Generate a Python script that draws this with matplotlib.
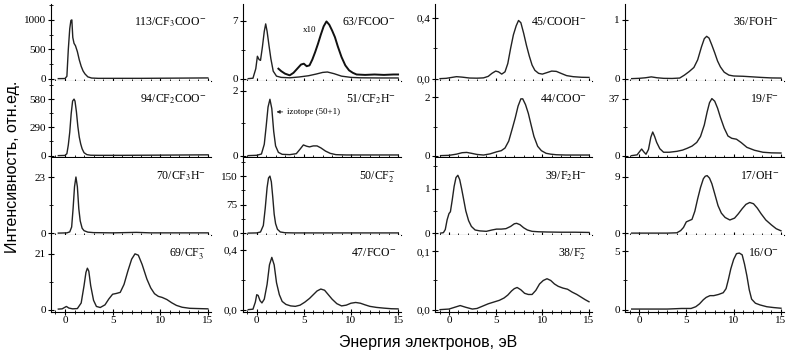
import matplotlib.pyplot as plt
from matplotlib.ticker import MultipleLocator, FixedLocator, FuncFormatter

plt.rcParams['font.family'] = ['Liberation Serif', 'DejaVu Serif']
plt.rcParams['mathtext.fontset'] = 'stix'

# --- data (energy in eV, intensity in arb. units) ---
x_113 = [-0.7, 0.0, 0.2, 0.35, 0.5, 0.62, 0.72, 0.82, 0.95, 1.1, 1.3, 1.5, 1.7, 1.9, 2.1, 2.4, 2.8, 3.5, 5, 8, 11, 15]
y_113 = [0, 2, 40, 500, 850, 990, 1000, 700, 600, 560, 460, 320, 210, 130, 80, 30, 10, 5, 5, 5, 8, 12]

x_94 = [-0.7, 0, 0.2, 0.35, 0.5, 0.65, 0.8, 0.95, 1.05, 1.2, 1.35, 1.5, 1.65, 1.8, 2.0, 2.3, 2.7, 3.5, 6, 10, 15]
y_94 = [0, 2, 20, 110, 240, 430, 560, 580, 560, 450, 300, 190, 120, 70, 30, 10, 4, 3, 3, 5, 8]

x_70 = [-0.7, 0.2, 0.5, 0.7, 0.85, 1.0, 1.15, 1.3, 1.45, 1.6, 1.8, 2.0, 2.4, 3, 5, 7.5, 9, 12, 15]
y_70 = [0, 0.1, 0.5, 2.5, 10, 19, 23, 19, 10, 5, 2, 1, 0.4, 0.2, 0.1, 0.3, 0.1, 0.1, 0.1]

x_69 = [-0.7, -0.3, 0.0, 0.15, 0.4, 0.8, 1.3, 1.7, 2.0, 2.2, 2.35, 2.5, 2.7, 3.0, 3.3, 3.7, 4.2, 4.6, 5.0, 5.4,
        5.8, 6.2, 6.6, 7.0, 7.35, 7.7, 8.1, 8.6, 9.0, 9.4, 9.8, 10.2, 10.7, 11.2, 11.7, 12.3, 13.1, 14, 15]
y_69 = [0.2, 0.3, 0.9, 1.2, 0.6, 0.3, 0.4, 2.5, 9, 14, 15.6, 14.5, 9, 3.5, 1.2, 0.8, 1.8, 4.0, 5.8, 6.1,
        6.5, 9.5, 14.5, 19, 21, 20.5, 17, 11.5, 8.2, 6.0, 5.0, 4.6, 3.8, 2.6, 1.6, 0.9, 0.5, 0.4, 0.3]

x_63 = [-0.9, -0.4, -0.1, 0.07, 0.25, 0.4, 0.6, 0.8, 0.95, 1.1, 1.3, 1.5, 1.75, 2.1, 2.6, 3.5, 4.5, 5.5,
        6.3, 7.0, 7.5, 8.2, 9.0, 10, 11, 13, 15]
y_63 = [0, 0.05, 1.2, 2.7, 2.3, 2.2, 3.8, 5.7, 6.6, 5.7, 4.0, 2.4, 0.9, 0.3, 0.15, 0.1, 0.2, 0.35,
        0.55, 0.75, 0.8, 0.6, 0.3, 0.15, 0.1, 0.08, 0.08]
x_63x10 = [2.3, 2.6, 3.0, 3.5, 3.9, 4.3, 4.7, 5.0, 5.3, 5.6, 5.9, 6.2, 6.5, 6.8, 7.1, 7.4, 7.7, 8.0, 8.3,
           8.6, 9.0, 9.4, 9.8, 10.2, 10.6, 11.5, 12.5, 13.5, 14.5, 15]
y_63x10 = [1.2, 0.9, 0.6, 0.4, 0.7, 1.2, 1.7, 1.8, 1.5, 1.6, 2.3, 3.2, 4.2, 5.3, 6.3, 6.9, 6.5, 5.8, 5.0,
           3.9, 2.6, 1.6, 1.0, 0.7, 0.5, 0.45, 0.5, 0.45, 0.5, 0.5]

x_51 = [-0.9, 0.0, 0.5, 0.8, 1.0, 1.2, 1.4, 1.6, 1.8, 2.0, 2.3, 2.7, 3.5, 4.2, 4.6, 4.95, 5.3, 5.6, 6.0,
        6.4, 6.8, 7.3, 7.8, 8.4, 9.5, 12, 15]
y_51 = [0, 0.01, 0.05, 0.35, 0.9, 1.5, 1.74, 1.45, 0.75, 0.3, 0.1, 0.04, 0.03, 0.06, 0.2, 0.33, 0.29, 0.27, 0.3,
        0.3, 0.24, 0.14, 0.07, 0.03, 0.02, 0.02, 0.02]

x_50 = [-0.9, 0.0, 0.4, 0.7, 0.9, 1.1, 1.25, 1.4, 1.55, 1.7, 1.85, 2.0, 2.2, 2.5, 3.0, 4, 8, 12, 15]
y_50 = [0, 0.5, 3, 20, 65, 120, 145, 150, 135, 95, 50, 25, 10, 3, 1, 0.5, 0.5, 0.5, 0.5]

x_47 = [-0.9, -0.4, -0.15, 0.0, 0.15, 0.35, 0.55, 0.8, 1.1, 1.35, 1.6, 1.85, 2.1, 2.4, 2.7, 3.1, 3.6, 4.1,
        4.6, 5.1, 5.6, 6.0, 6.4, 6.8, 7.2, 7.6, 8.0, 8.5, 9.0, 9.5, 10.0, 10.5, 11.0, 11.5, 12.0, 12.7,
        13.5, 14.3, 15.0]
y_47 = [0, 0.003, 0.05, 0.1, 0.095, 0.06, 0.045, 0.07, 0.17, 0.3, 0.35, 0.3, 0.18, 0.1, 0.055, 0.035, 0.025, 0.022,
        0.03, 0.05, 0.075, 0.1, 0.125, 0.138, 0.13, 0.1, 0.07, 0.04, 0.025, 0.03, 0.043, 0.048, 0.043, 0.032, 0.022, 0.015,
        0.01, 0.006, 0.005]

x_45 = [-0.96, -0.3, 0.3, 0.8, 1.4, 2.2, 3.0, 3.7, 4.2, 4.6, 5.0, 5.3, 5.65, 6.0, 6.3, 6.6, 6.9, 7.2, 7.45,
        7.7, 8.0, 8.3, 8.6, 8.9, 9.2, 9.6, 10.0, 10.5, 11.0, 11.5, 12.0, 12.6, 13.3, 14.2, 15]
y_45 = [0.0, 0.002, 0.008, 0.013, 0.01, 0.004, 0.003, 0.005, 0.015, 0.035, 0.05, 0.045, 0.03, 0.045, 0.1, 0.2, 0.29,
        0.35, 0.385, 0.37, 0.3, 0.22, 0.15, 0.09, 0.055, 0.035, 0.03, 0.04, 0.05, 0.048, 0.035, 0.02, 0.013, 0.009, 0.008]

x_44 = [-0.9, 0.0, 0.8, 1.4, 1.9, 2.4, 3.0, 3.7, 4.4, 5.1, 5.6, 6.0, 6.4, 6.8, 7.1, 7.4, 7.7, 7.9, 8.2, 8.5,
        8.8, 9.1, 9.5, 9.9, 10.4, 10.9, 11.5, 12.5, 14, 15]
y_44 = [0.0, 0.01, 0.05, 0.1, 0.11, 0.08, 0.04, 0.02, 0.06, 0.13, 0.17, 0.26, 0.5, 0.95, 1.3, 1.7, 1.95, 1.95, 1.75,
        1.45, 1.05, 0.66, 0.32, 0.17, 0.08, 0.05, 0.03, 0.02, 0.02, 0.02]

x_39 = [-0.9, -0.6, -0.4, -0.2, 0.0, 0.15, 0.35, 0.55, 0.75, 0.95, 1.15, 1.35, 1.55, 1.8, 2.1, 2.4, 2.8, 3.3,
        4.0, 4.6, 5.1, 5.6, 6.1, 6.6, 7.0, 7.25, 7.6, 8.0, 8.4, 8.9, 9.6, 10.5, 12, 13.5, 15]
y_39 = [0.0, 0.01, 0.08, 0.3, 0.44, 0.48, 0.75, 1.05, 1.25, 1.3, 1.2, 1.0, 0.78, 0.5, 0.28, 0.15, 0.07, 0.05,
        0.04, 0.07, 0.09, 0.09, 0.1, 0.15, 0.21, 0.22, 0.19, 0.12, 0.07, 0.04, 0.03, 0.025, 0.02, 0.02, 0.015]

x_38 = [-0.96, 0.0, 0.6, 1.2, 1.8, 2.5, 3.0, 3.6, 4.2, 4.8, 5.4, 5.9, 6.3, 6.7, 7.0, 7.3, 7.7, 8.1, 8.5,
        8.9, 9.3, 9.7, 10.1, 10.5, 10.9, 11.3, 11.7, 12.2, 12.7, 13.2, 13.7, 14.2, 14.6, 15.0]
y_38 = [0.0, 0.001, 0.004, 0.007, 0.004, 0.001, 0.002, 0.006, 0.01, 0.013, 0.016, 0.02, 0.025, 0.032, 0.036,
        0.038, 0.034, 0.028, 0.026, 0.026, 0.033, 0.044, 0.05, 0.053, 0.05, 0.044, 0.04, 0.037, 0.035, 0.03,
        0.026, 0.021, 0.017, 0.0135]

x_36 = [-0.77, 0.0, 0.7, 1.3, 1.9, 2.6, 3.5, 4.3, 4.8, 5.3, 5.8, 6.2, 6.6, 6.9, 7.15, 7.4, 7.7, 8.0, 8.3,
        8.6, 9.0, 9.5, 10.0, 11.0, 12.0, 13.0, 14.0, 15.0]
y_36 = [0.0, 0.005, 0.015, 0.03, 0.015, 0.005, 0.003, 0.01, 0.06, 0.12, 0.19, 0.32, 0.54, 0.68, 0.72, 0.69, 0.57,
        0.44, 0.3, 0.2, 0.11, 0.06, 0.045, 0.04, 0.03, 0.02, 0.012, 0.01]

x_19 = [-0.77, -0.2, 0.05, 0.28, 0.5, 0.74, 1.0, 1.25, 1.45, 1.65, 1.87, 2.2, 2.6, 3.2, 4.0, 4.6, 5.1, 5.6,
        6.1, 6.5, 6.9, 7.2, 7.45, 7.7, 8.0, 8.3, 8.6, 9.0, 9.4, 9.8, 10.3, 10.8, 11.4, 12.2, 13.1, 14.0, 15.0]
y_19 = [0.0, 0.5, 2.5, 4.3, 2.5, 0.9, 4.0, 12.0, 15.4, 12.5, 8.6, 4.5, 2.2, 2.2, 2.8, 3.6, 4.8, 6.2,
        8.6, 12.5, 20.0, 28.5, 34.5, 37.2, 35.5, 31.0, 25.0, 18.0, 12.8, 11.3, 10.7, 8.5, 5.4, 3.5, 2.2, 1.8, 1.7]

x_17 = [-0.77, 1.0, 3.0, 4.0, 4.4, 4.7, 5.0, 5.3, 5.6, 5.9, 6.2, 6.5, 6.8, 7.0, 7.2, 7.45, 7.7, 8.0, 8.35,
        8.7, 9.1, 9.6, 10.1, 10.5, 10.9, 11.3, 11.7, 12.1, 12.5, 12.9, 13.4, 14.0, 14.5, 15.0]
y_17 = [0, 0, 0, 0.05, 0.4, 0.9, 1.8, 2.0, 2.2, 3.5, 5.5, 7.3, 8.7, 9.1, 9.2, 8.8, 7.9, 6.3, 4.4,
        3.2, 2.5, 2.1, 2.4, 3.1, 3.9, 4.6, 4.9, 4.7, 4.0, 3.1, 2.1, 1.3, 0.7, 0.37]

x_16 = [-0.77, 1.0, 3.0, 4.5, 5.5, 6.0, 6.4, 6.8, 7.1, 7.5, 7.9, 8.4, 8.9, 9.2, 9.45, 9.7, 10.0, 10.3, 10.6,
        10.9, 11.15, 11.4, 11.65, 11.9, 12.3, 12.8, 13.5, 14.2, 15.0]
y_16 = [0.05, 0.05, 0.05, 0.1, 0.1, 0.25, 0.5, 0.85, 1.05, 1.2, 1.2, 1.3, 1.45, 1.8, 2.6, 3.5, 4.3, 4.8, 4.85,
        4.7, 3.9, 2.9, 1.7, 0.9, 0.55, 0.4, 0.25, 0.18, 0.12]

labels = [
    [r'113/CF$_3$COO$^{-}$', r'63/FCOO$^{-}$', r'45/COOH$^{-}$', r'36/FOH$^{-}$'],
    [r'94/CF$_2$COO$^{-}$', r'51/CF$_2$H$^{-}$', r'44/COO$^{-}$', r'19/F$^{-}$'],
    [r'70/CF$_3$H$^{-}$', r'50/CF$_2^{-}$', r'39/F$_2$H$^{-}$', r'17/OH$^{-}$'],
    [r'69/CF$_3^{-}$', r'47/FCO$^{-}$', r'38/F$_2^{-}$', r'16/O$^{-}$'],
]
series = [
    [(x_113, y_113), (x_63, y_63), (x_45, y_45), (x_36, y_36)],
    [(x_94, y_94), (x_51, y_51), (x_44, y_44), (x_19, y_19)],
    [(x_70, y_70), (x_50, y_50), (x_39, y_39), (x_17, y_17)],
    [(x_69, y_69), (x_47, y_47), (x_38, y_38), (x_16, y_16)],
]
y_top = [[1270, 9.0, 0.494, 1.27], [771, 2.32, 2.58, 49], [31, 199, 1.7, 12.1], [28.1, 0.5, 0.128, 6.4]]
y_ticks = [
    [[0, 500, 1000], [0, 7], [0, 0.4], [0, 1]],
    [[0, 290, 580], [0, 2], [0, 2], [0, 37]],
    [[0, 23], [0, 75, 150], [0, 1], [0, 9]],
    [[0, 21], [0, 0.4], [0, 0.1], [0, 5]],
]
comma_cols = {(0, 2), (3, 1), (3, 2)}

W, H = 788, 350
col_left = [50.7, 242.6, 435.0, 624.8]
col_width = [160.0, 158.3, 156.8, 159.0]
row_top = [4.0, 80.5, 157.5, 235.0, 311.5]

fig = plt.figure(figsize=(W / 100, H / 100), dpi=100)
line_col = '#222222'

for r in range(4):
    for c in range(4):
        ax = fig.add_axes([col_left[c] / W, 1 - row_top[r + 1] / H,
                           col_width[c] / W, (row_top[r + 1] - row_top[r]) / H])
        xs, ys = series[r][c]
        ax.plot(xs, ys, color=line_col, lw=1.0)
        if (r, c) == (0, 1):
            ax.plot(x_63x10, y_63x10, color='#111111', lw=1.4)
            ax.text(5.6, 5.9, 'x10', fontsize=6.5, ha='center', va='center')
        if (r, c) == (1, 1):
            ax.annotate('izotope (50+1)', xy=(2.1, 1.35), xytext=(3.2, 1.35),
                        fontsize=6.5, ha='left', va='center',
                        arrowprops=dict(arrowstyle='-|>', lw=0.6, color='#222222',
                                        mutation_scale=5, shrinkA=1, shrinkB=0))
        top = y_top[r][c]
        ax.set_xlim(-1.5, 15.3)
        ax.set_ylim(-0.025 * top, top)
        for s in ['top', 'right']:
            ax.spines[s].set_visible(False)
        ax.xaxis.set_major_locator(FixedLocator([0, 5, 10, 15]))
        ax.xaxis.set_minor_locator(MultipleLocator(1))
        tk = y_ticks[r][c]
        ax.yaxis.set_major_locator(FixedLocator(tk))
        step = tk[1] / 2
        ax.yaxis.set_minor_locator(MultipleLocator(step))
        if (r, c) in comma_cols:
            ax.yaxis.set_major_formatter(FuncFormatter(lambda v, p: ('%.1f' % v).replace('.', ',')))
        else:
            ax.yaxis.set_major_formatter(FuncFormatter(lambda v, p: '%d' % round(v)))
        ax.tick_params(which='major', direction='inout', length=5, width=0.8, labelsize=8, pad=1)
        ax.tick_params(which='minor', direction='inout', length=3, width=0.6)
        if r < 3:
            ax.tick_params(axis='x', labelbottom=False)
        ax.text(0.97, 0.76, labels[r][c], transform=ax.transAxes, fontsize=8.5,
                ha='right', va='center')

fig.text(13 / W, 1 - 167 / H, 'Интенсивность, отн.ед.', rotation=90, ha='center', va='center',
         fontsize=11.5, family='Liberation Sans')
fig.text(428 / W, 1 - 342 / H, 'Энергия электронов, эВ', ha='center', va='center',
         fontsize=11.5, family='Liberation Sans')

fig.savefig('out.png', dpi=100)
